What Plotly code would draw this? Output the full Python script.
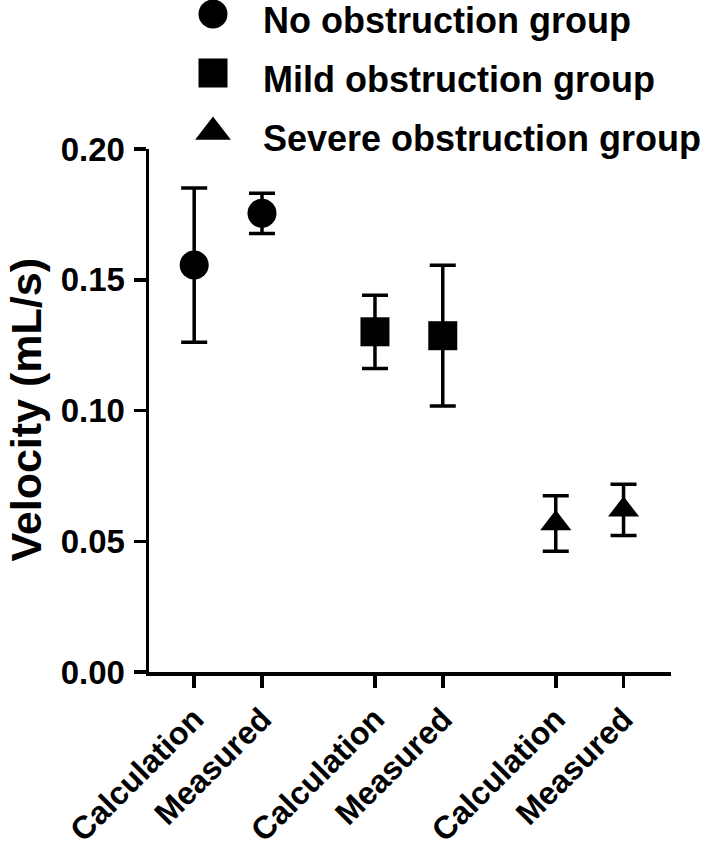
import plotly.graph_objects as go

# ---- data ----
groups = ["No obstruction group", "Mild obstruction group", "Severe obstruction group"]
methods = ["Calculation", "Measured"]
means_no = [0.1556, 0.1754]
err_no = [0.0295, 0.0077]
means_mild = [0.1301, 0.1286]
err_mild = [0.0140, 0.0269]
means_severe = [0.0568, 0.0620]
err_severe = [0.0106, 0.0098]
y_ticks = [0.00, 0.05, 0.10, 0.15, 0.20]

means = [means_no, means_mild, means_severe]
errs = [err_no, err_mild, err_severe]
symbols = ["circle", "square", "triangle-up"]
sizes = [29, 29, 27]

FONT = "Liberation Sans, Arial, Helvetica, sans-serif"
W, H = 708, 852
ML, MR, MT, MB = 149, 37, 0, 180
plot_w = W - ML - MR
plot_h = H - MT - MB
main_top = (plot_h - 149) / plot_h

# layout spacing (computed, not data)
GROUP_STEP = 8
PAIR_STEP = 3

fig = go.Figure()
tickvals, ticktext = [], []
for gi, g in enumerate(groups):
    xs = [gi * GROUP_STEP + mi * PAIR_STEP for mi in range(len(methods))]
    tickvals += xs
    ticktext += methods
    fig.add_trace(go.Scatter(
        x=xs, y=means[gi], mode="markers", name=g, showlegend=False,
        marker=dict(symbol=symbols[gi], size=sizes[gi], color="black", line=dict(width=0)),
        error_y=dict(type="data", array=errs[gi], visible=True, color="black",
                     thickness=3.5, width=13),
    ))

# custom legend (big markers) on an auxiliary axis pair
for gi, g in enumerate(groups):
    fig.add_trace(go.Scatter(
        x=[(213 - ML) / plot_w], y=[gi], mode="markers", showlegend=False,
        xaxis="x2", yaxis="y2",
        marker=dict(symbol=symbols[gi], size=29 if gi < 2 else 31, color="black"),
        hoverinfo="skip",
    ))
    fig.add_annotation(x=(262 - ML) / plot_w, y=gi, xref="x2", yref="y2", text=g,
                       showarrow=False, xanchor="left", yanchor="middle",
                       yshift=-7, borderpad=0,
                       font=dict(family=FONT, size=36, color="black", weight="bold"))

fig.add_annotation(
    text="Velocity (mL/s)", textangle=-90, xref="paper", yref="paper",
    x=(25.5 - ML) / plot_w, y=1 - 410 / plot_h, xanchor="center", yanchor="middle",
    showarrow=False, borderpad=0,
    font=dict(family=FONT, size=43, color="black", weight="bold"),
)

axis_common = dict(showgrid=False, zeroline=False, showline=True, linecolor="black",
                   linewidth=3.5, ticks="outside", tickwidth=3.5, tickcolor="black",
                   automargin=False)

fig.update_layout(
    width=W, height=H, paper_bgcolor="white", plot_bgcolor="white",
    margin=dict(l=ML, r=MR, t=MT, b=MB, autoexpand=False),
    font=dict(family=FONT, color="black"),
    xaxis=dict(range=[-2, 21.1], tickvals=tickvals, ticktext=ticktext, tickangle=-45,
               ticklen=12, tickfont=dict(family=FONT, size=32, weight="bold"),
               domain=[0, 1], anchor="y", **axis_common),
    yaxis=dict(range=[0, 0.20], tickvals=y_ticks, tickformat=".2f", ticklen=12,
               tickfont=dict(family=FONT, size=33, weight="bold"), ticklabelstandoff=2,
               domain=[0, main_top], anchor="x", **axis_common),
    xaxis2=dict(range=[0, 1], domain=[0, 1], anchor="y2", visible=False,
                fixedrange=True, automargin=False),
    yaxis2=dict(range=[2.268, -0.237], domain=[1 - 147.8 / plot_h, 1], anchor="x2",
                visible=False, fixedrange=True, automargin=False),
    showlegend=False,
)

fig.write_html("out.html", config={"displayModeBar": False, "staticPlot": True},
               post_script="document.body.style.margin='0px';document.body.style.overflow='hidden';")
